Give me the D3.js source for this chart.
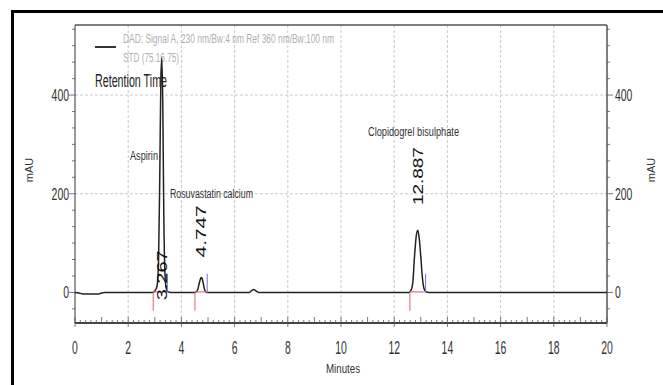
<!DOCTYPE html>
<html>
<head>
<meta charset="utf-8">
<script src="https://cdn.jsdelivr.net/npm/d3@7"></script>
<style>
  body { margin: 0; background: #fff; }
  svg { display: block; }
</style>
</head>
<body>
<svg id="chart"></svg>
<script>
// chromatogram trace: minutes / mAU
var traceMin = [0, 0.15, 0.3, 0.9, 1.0, 1.1, 2.9, 3.0, 3.08, 3.14, 3.19, 3.23, 3.267, 3.3, 3.34, 3.38, 3.43, 3.5, 3.6,
  4.5, 4.6, 4.67, 4.72, 4.747, 4.78, 4.83, 4.88, 4.95, 6.55, 6.65, 6.72, 6.8, 6.9,
  12.55, 12.62, 12.7, 12.76, 12.83, 12.887, 12.94, 13.0, 13.06, 13.12, 13.2, 13.3, 20];
var traceMAU = [0, -1, -3, -3, -1, 0, 0, 3, 12, 60, 250, 440, 475, 380, 150, 40, 8, 1, 0,
  0, 4, 18, 28, 30, 28, 16, 4, 0, 0, 4, 6, 3, 0,
  0, 3, 20, 70, 115, 126, 110, 72, 30, 8, 1, 0, 0];

// integrated peaks
var peakNames = ['Aspirin', 'Rosuvastatin calcium', 'Clopidogrel bisulphate'];
var peakRT = [3.267, 4.747, 12.887];
var peakStart = [2.94, 4.51, 12.59];
var peakEnd = [3.47, 4.97, 13.18];

var xTickLabels = [0, 2, 4, 6, 8, 10, 12, 14, 16, 18, 20];
var yTickLabels = [0, 200, 400];
var legendLines = ['DAD: Signal A, 230 nm/Bw:4 nm Ref 360 nm/Bw:100 nm', 'STD (75.16.75)'];

var width = 663;
var height = 385;
var svg = d3.select('#chart').attr('width', width).attr('height', height);

var x = d3.scaleLinear().domain([0, 20]).range([75, 607]);
var y = d3.scaleLinear().domain([-62, 542]).range([323, 25]);

var narrow = '"Liberation Sans Narrow", "Arial Narrow", "Liberation Sans", sans-serif';

// squeezed text, the original uses a very condensed face
function ctext(g, str, px, py, size, len, anchor, fill) {
  return g.append('text')
    .attr('x', px).attr('y', py)
    .attr('font-family', narrow)
    .attr('font-size', size)
    .attr('text-anchor', anchor || 'start')
    .attr('textLength', len)
    .attr('lengthAdjust', 'spacingAndGlyphs')
    .attr('fill', fill || '#333')
    .text(str);
}

// outer frame (left and top edges only visible)
svg.append('rect')
  .attr('x', 12.5).attr('y', 11.5).attr('width', 700).attr('height', 400)
  .attr('fill', 'none').attr('stroke', '#000').attr('stroke-width', 3);

// grid
var grid = svg.append('g').attr('stroke', '#c9c9c9').attr('stroke-dasharray', '3,2');
grid.selectAll('line.v').data(xTickLabels.slice(1, -1)).enter().append('line')
  .attr('x1', d => x(d)).attr('x2', d => x(d))
  .attr('y1', y.range()[1]).attr('y2', y.range()[0]);
grid.selectAll('line.h').data(yTickLabels.slice(1)).enter().append('line')
  .attr('x1', x(0)).attr('x2', x(20))
  .attr('y1', d => y(d)).attr('y2', d => y(d));

// plot frame
var frame = svg.append('g').attr('stroke', '#555').attr('fill', 'none');
frame.append('line').attr('x1', x(0)).attr('x2', x(20)).attr('y1', 25).attr('y2', 25).attr('stroke-width', 1.5);
frame.append('line').attr('x1', x(0)).attr('x2', x(0)).attr('y1', 25).attr('y2', 323).attr('stroke-width', 1.2);
frame.append('line').attr('x1', x(20)).attr('x2', x(20)).attr('y1', 25).attr('y2', 323).attr('stroke-width', 1.5);
frame.append('line').attr('x1', x(0)).attr('x2', x(20)).attr('y1', 323).attr('y2', 323).attr('stroke-width', 2).attr('stroke', '#444');

// x ticks
var xMinor = d3.range(0, 20.001, 0.2);
svg.append('g').attr('stroke', '#555').attr('stroke-width', 0.8)
  .selectAll('line').data(xMinor).enter().append('line')
  .attr('x1', d => x(d)).attr('x2', d => x(d))
  .attr('y1', d => Math.abs(d - Math.round(d)) < 0.01 ? 317 : 320)
  .attr('y2', d => Math.abs(d / 2 - Math.round(d / 2)) < 0.01 ? 327 : 323);
var xl = svg.append('g');
xTickLabels.forEach(function (d) {
  ctext(xl, String(d), x(d), 354, 19, String(d).length * 5.8, 'middle', '#333');
});
ctext(svg, 'Minutes', x(10) + 2, 373, 13, 34, 'middle', '#333');

// y ticks, left and right
var yMinor = d3.range(-1, 17).map(k => k * 200 / 6);
var yt = svg.append('g').attr('stroke', '#555').attr('stroke-width', 0.8);
yt.selectAll('line.l').data(yMinor).enter().append('line')
  .attr('x1', x(0)).attr('x2', d => yTickLabels.indexOf(Math.round(d)) >= 0 ? x(0) - 6 : x(0) - 3)
  .attr('y1', d => y(d)).attr('y2', d => y(d));
yt.selectAll('line.r').data(yMinor).enter().append('line')
  .attr('x1', x(20)).attr('x2', d => yTickLabels.indexOf(Math.round(d)) >= 0 ? x(20) + 6 : x(20) + 3)
  .attr('y1', d => y(d)).attr('y2', d => y(d));
var yl = svg.append('g');
yTickLabels.forEach(function (d) {
  var len = String(d).length * 5.8;
  ctext(yl, String(d), x(0) - 6, y(d) + 6, 17, len, 'end', '#333');
  ctext(yl, String(d), x(20) + 8, y(d) + 6, 17, len, 'start', '#333');
});

// axis titles
svg.append('text').attr('transform', 'translate(33,170) rotate(-90)')
  .attr('text-anchor', 'middle').attr('font-family', 'Liberation Sans, sans-serif')
  .attr('font-size', 11).attr('fill', '#333').text('mAU');
svg.append('text').attr('transform', 'translate(655,170) rotate(-90)')
  .attr('text-anchor', 'middle').attr('font-family', 'Liberation Sans, sans-serif')
  .attr('font-size', 11).attr('fill', '#333').text('mAU');

// legend
svg.append('line').attr('x1', 95).attr('x2', 116).attr('y1', 47).attr('y2', 47)
  .attr('stroke', '#333').attr('stroke-width', 2);
ctext(svg, legendLines[0], 123, 43, 12.5, 211, 'start', '#b0b0b0');
ctext(svg, legendLines[1], 123, 62, 12.5, 56, 'start', '#b0b0b0');
ctext(svg, 'Retention Time', 95, 87, 18, 72, 'start', '#222');

// signal
var pts = traceMin.map((t, i) => [t, traceMAU[i]]);
var line = d3.line().x(d => x(d[0])).y(d => y(d[1])).curve(d3.curveMonotoneX);
svg.append('path').datum(pts).attr('d', line)
  .attr('fill', 'none').attr('stroke', '#222').attr('stroke-width', 1.5);

// integration baselines and start / end markers
var marks = svg.append('g');
peakRT.forEach(function (rt, i) {
  marks.append('line').attr('x1', x(peakStart[i])).attr('x2', x(peakEnd[i]))
    .attr('y1', y(1)).attr('y2', y(1)).attr('stroke', '#e0707a').attr('stroke-width', 1.2);
  marks.append('line').attr('x1', x(peakStart[i])).attr('x2', x(peakStart[i]))
    .attr('y1', y(0)).attr('y2', y(-37)).attr('stroke', '#e0606a').attr('stroke-width', 1);
  marks.append('line').attr('x1', x(peakEnd[i])).attr('x2', x(peakEnd[i]))
    .attr('y1', y(0)).attr('y2', y(38)).attr('stroke', '#7070d8').attr('stroke-width', 1);
});

// retention time labels
var rtLabel = [{ base: -16, len: 50 }, { base: 71, len: 52 }, { base: 177, len: 58 }];
peakRT.forEach(function (rt, i) {
  svg.append('text')
    .attr('transform', 'translate(' + (x(rt) + 5) + ',' + y(rtLabel[i].base) + ') rotate(-90)')
    .attr('font-family', 'Liberation Sans, sans-serif').attr('font-size', 14)
    .attr('textLength', rtLabel[i].len).attr('lengthAdjust', 'spacingAndGlyphs')
    .attr('fill', '#111').text(rt.toFixed(3));
});

// compound names
ctext(svg, peakNames[0], 130, 160, 12, 28, 'start', '#333');
ctext(svg, peakNames[1], 170, 198, 12, 83, 'start', '#333');
ctext(svg, peakNames[2], 368, 136, 12, 91, 'start', '#333');
</script>
</body>
</html>
